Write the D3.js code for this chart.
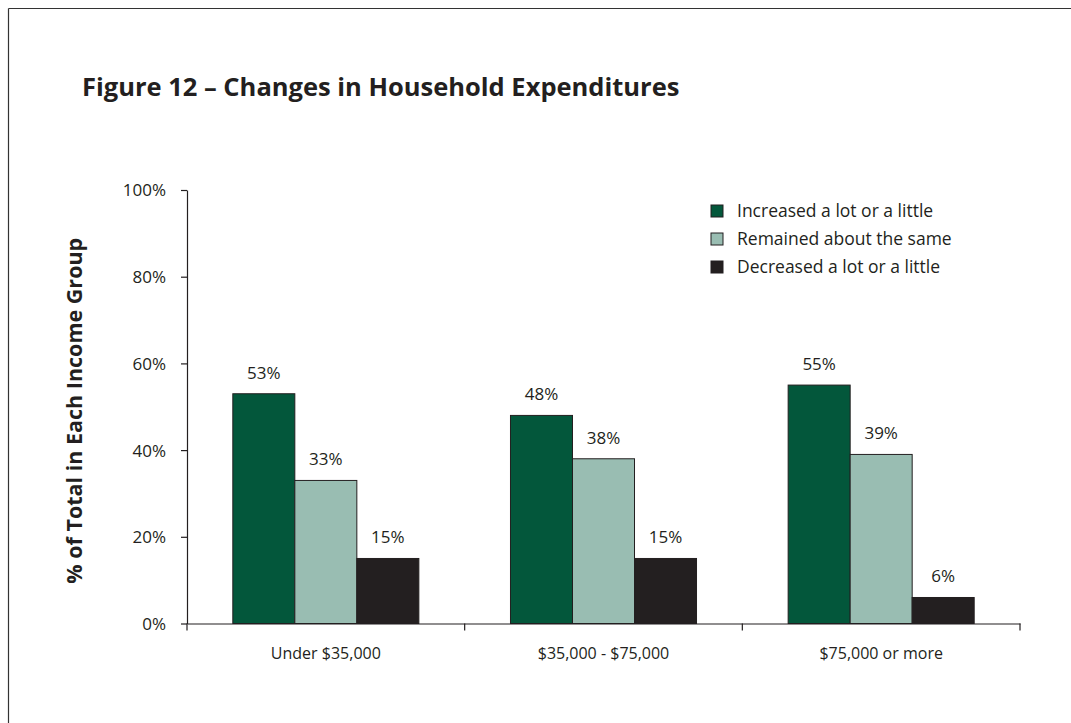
<!DOCTYPE html>
<html>
<head>
<meta charset="utf-8">
<script src="https://cdn.jsdelivr.net/npm/d3@7"></script>
<style>
  html, body { margin: 0; padding: 0; background: #fff; }
  svg { display: block; }
  text { font-family: "Open Sans", "Noto Sans", sans-serif; fill: #231f20; }
</style>
</head>
<body>
<svg id="chart" width="1071" height="723"></svg>
<script>
// Income groups along the x axis
const categories = ["Under $35,000", "$35,000 - $75,000", "$75,000 or more"];
// Response series (legend order)
const seriesNames = ["Increased a lot or a little", "Remained about the same", "Decreased a lot or a little"];
const seriesColors = ["#03573b", "#99bdb2", "#231f20"];
// Share of each income group, per series
const increased = [0.53, 0.48, 0.55];
const remained = [0.33, 0.38, 0.39];
const decreased = [0.15, 0.15, 0.06];
// Y axis ticks
const yTicks = [0, 0.2, 0.4, 0.6, 0.8, 1.0];

const seriesValues = [increased, remained, decreased];

const svg = d3.select("#chart");

// Partial frame (top and left edges)
svg.append("line").attr("x1", 8.5).attr("y1", 8.5).attr("x2", 1071).attr("y2", 8.5)
  .attr("stroke", "#333").attr("stroke-width", 1.2);
svg.append("line").attr("x1", 8.5).attr("y1", 8.5).attr("x2", 8.5).attr("y2", 723)
  .attr("stroke", "#333").attr("stroke-width", 1.2);

// Title
svg.append("text")
  .attr("x", 82).attr("y", 96)
  .attr("font-size", 25.5).attr("font-weight", 700)
  .text("Figure 12 \u2013 Changes in Household Expenditures");

const plotLeft = 187, plotRight = 1020, plotTop = 190, plotBottom = 623.5;

const x = d3.scaleBand().domain(categories).range([plotLeft, plotRight]).paddingInner(0).paddingOuter(0);
const x1 = d3.scaleBand().domain(d3.range(seriesNames.length))
  .range([x.bandwidth() * 0.165, x.bandwidth() * 0.835]).padding(0);
const y = d3.scaleLinear().domain([0, 1]).range([plotBottom, plotTop]);

// Y axis
const yAxis = d3.axisLeft(y).tickValues(yTicks).tickFormat(d3.format(".0%")).tickSize(6).tickSizeOuter(0);
const gy = svg.append("g").attr("transform", `translate(${plotLeft},0)`).call(yAxis);
gy.select(".domain").attr("stroke", "#231f20").attr("stroke-width", 1.2);
gy.selectAll(".tick line").attr("stroke", "#231f20").attr("stroke-width", 1.2);
gy.selectAll(".tick text").attr("font-size", 17).attr("fill", "#231f20")
  .attr("font-family", "'Open Sans', sans-serif").attr("x", -21).attr("dy", "0.35em");

// Bars
const groups = svg.append("g").selectAll("g")
  .data(categories)
  .join("g")
  .attr("transform", d => `translate(${x(d)},0)`);

groups.selectAll("rect")
  .data((d, i) => seriesValues.map((vals, s) => ({ s, v: vals[i] })))
  .join("rect")
  .attr("x", d => x1(d.s))
  .attr("y", d => y(d.v))
  .attr("width", x1.bandwidth())
  .attr("height", d => plotBottom - y(d.v))
  .attr("fill", d => seriesColors[d.s])
  .attr("stroke", "#231f20")
  .attr("stroke-width", 1);

// Value labels
groups.selectAll("text.val")
  .data((d, i) => seriesValues.map((vals, s) => ({ s, v: vals[i] })))
  .join("text")
  .attr("class", "val")
  .attr("x", d => x1(d.s) + x1.bandwidth() / 2)
  .attr("y", d => y(d.v) - 15)
  .attr("text-anchor", "middle")
  .attr("font-size", 17)
  .text(d => d3.format(".0%")(d.v));

// X axis
const xAxis = d3.axisBottom(x).tickSize(0).tickSizeOuter(0);
const gx = svg.append("g").attr("transform", `translate(0,${plotBottom})`).call(xAxis);
gx.select(".domain").attr("stroke", "#231f20").attr("stroke-width", 1.2);
gx.selectAll(".tick text").attr("font-size", 16).attr("fill", "#231f20")
  .attr("font-family", "'Open Sans', sans-serif").attr("y", 24).attr("dy", "0.71em");
// Separator ticks at band boundaries
const boundaries = categories.map(c => x(c)).concat([plotRight]);
gx.selectAll("line.sep").data(boundaries).join("line").attr("class", "sep")
  .attr("x1", d => d).attr("x2", d => d).attr("y1", 0).attr("y2", 7)
  .attr("stroke", "#231f20").attr("stroke-width", 1.2);

// Y axis title
svg.append("text")
  .attr("transform", `translate(82,${(plotTop + plotBottom) / 2 + 4}) rotate(-90)`)
  .attr("text-anchor", "middle")
  .attr("font-size", 21.5).attr("font-weight", 700)
  .text("% of Total in Each Income Group");

// Legend
const legend = svg.append("g").attr("transform", "translate(711,205)");
const items = legend.selectAll("g").data(seriesNames).join("g")
  .attr("transform", (d, i) => `translate(0,${i * 28})`);
items.append("rect").attr("width", 12).attr("height", 12)
  .attr("fill", (d, i) => seriesColors[i]).attr("stroke", "#231f20").attr("stroke-width", 1);
items.append("text").attr("x", 26).attr("y", 6).attr("dy", "0.35em")
  .attr("font-size", 17.5).text(d => d);
</script>
</body>
</html>
